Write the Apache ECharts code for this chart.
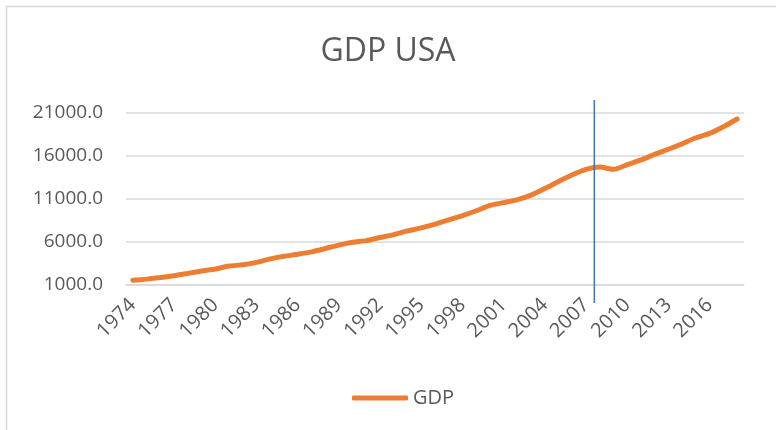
<!DOCTYPE html>
<html>
<head>
<meta charset="utf-8">
<script src="https://cdn.jsdelivr.net/npm/echarts@6/dist/echarts.min.js"></script>
<style>html,body{margin:0;padding:0;background:#fff}#c{width:776px;height:430px}</style>
</head>
<body>
<div id="c"></div>
<script>
var years = [];
for (var y = 1974; y <= 2018; y++) years.push(String(y));
var gdp = [1545, 1684, 1873, 2082, 2352, 2627, 2857, 3207, 3343, 3634,
  4037, 4339, 4579, 4855, 5236, 5641, 5963, 6158, 6520, 6858,
  7287, 7639, 8073, 8577, 9063, 9631, 10252, 10582, 10936, 11458,
  12214, 13037, 13815, 14452, 14713, 14449, 14992, 15543, 16197, 16785,
  17427, 18120, 18624, 19400, 20300];
var yTicks = {min: 1000, max: 21000, interval: 5000};
var markerYear = ['2007', '2008'];

var font = '"Open Sans", "Noto Sans", sans-serif';
var chart = echarts.init(document.getElementById('c'));
chart.setOption({
  animation: false,
  title: {
    text: 'GDP USA', left: 'center', top: 31,
    textStyle: {fontFamily: font, fontSize: 32, fontWeight: 'normal', color: '#595959'}
  },
  legend: {
    top: 383, left: 347, icon: 'roundRect', itemWidth: 56, itemHeight: 5, itemGap: 4,
    textStyle: {fontFamily: font, fontSize: 20, color: '#595959'},
    data: ['GDP']
  },
  grid: {left: 126, right: 32, top: 113, bottom: 145},
  xAxis: {
    type: 'category', data: years, boundaryGap: true,
    axisLine: {show: true, lineStyle: {color: '#d9d9d9', width: 1.5}},
    axisTick: {show: false},
    axisLabel: {interval: 2, rotate: 45, margin: 17, fontFamily: font, fontSize: 20, color: '#595959'}
  },
  yAxis: {
    type: 'value', min: yTicks.min, max: yTicks.max, interval: yTicks.interval,
    axisLine: {show: false}, axisTick: {show: false},
    splitLine: {lineStyle: {color: '#d9d9d9', width: 1.5}},
    axisLabel: {margin: 23, fontFamily: font, fontSize: 19, color: '#595959',
      formatter: function (v) { return v.toFixed(1); }}
  },
  series: [{
    name: 'GDP', type: 'line', data: gdp, showSymbol: false, smooth: 0.2,
    lineStyle: {color: '#ED7D31', width: 5, cap: 'round'},
    itemStyle: {color: '#ED7D31'}
  }]
});
var p1 = chart.convertToPixel({xAxisIndex: 0}, markerYear[0]);
var p2 = chart.convertToPixel({xAxisIndex: 0}, markerYear[1]);
var mx = p1 + 0.6 * (p2 - p1);
chart.setOption({
  graphic: [
    {type: 'rect', shape: {x: 6.5, y: 6.5, width: 900, height: 600}, style: {fill: null, stroke: '#d9d9d9', lineWidth: 1.5}, silent: true},
    {type: 'line', shape: {x1: mx, y1: 100, x2: mx, y2: 303}, style: {stroke: '#4472C4', lineWidth: 1.5}, z: 10}
  ]
});
</script>
</body>
</html>
